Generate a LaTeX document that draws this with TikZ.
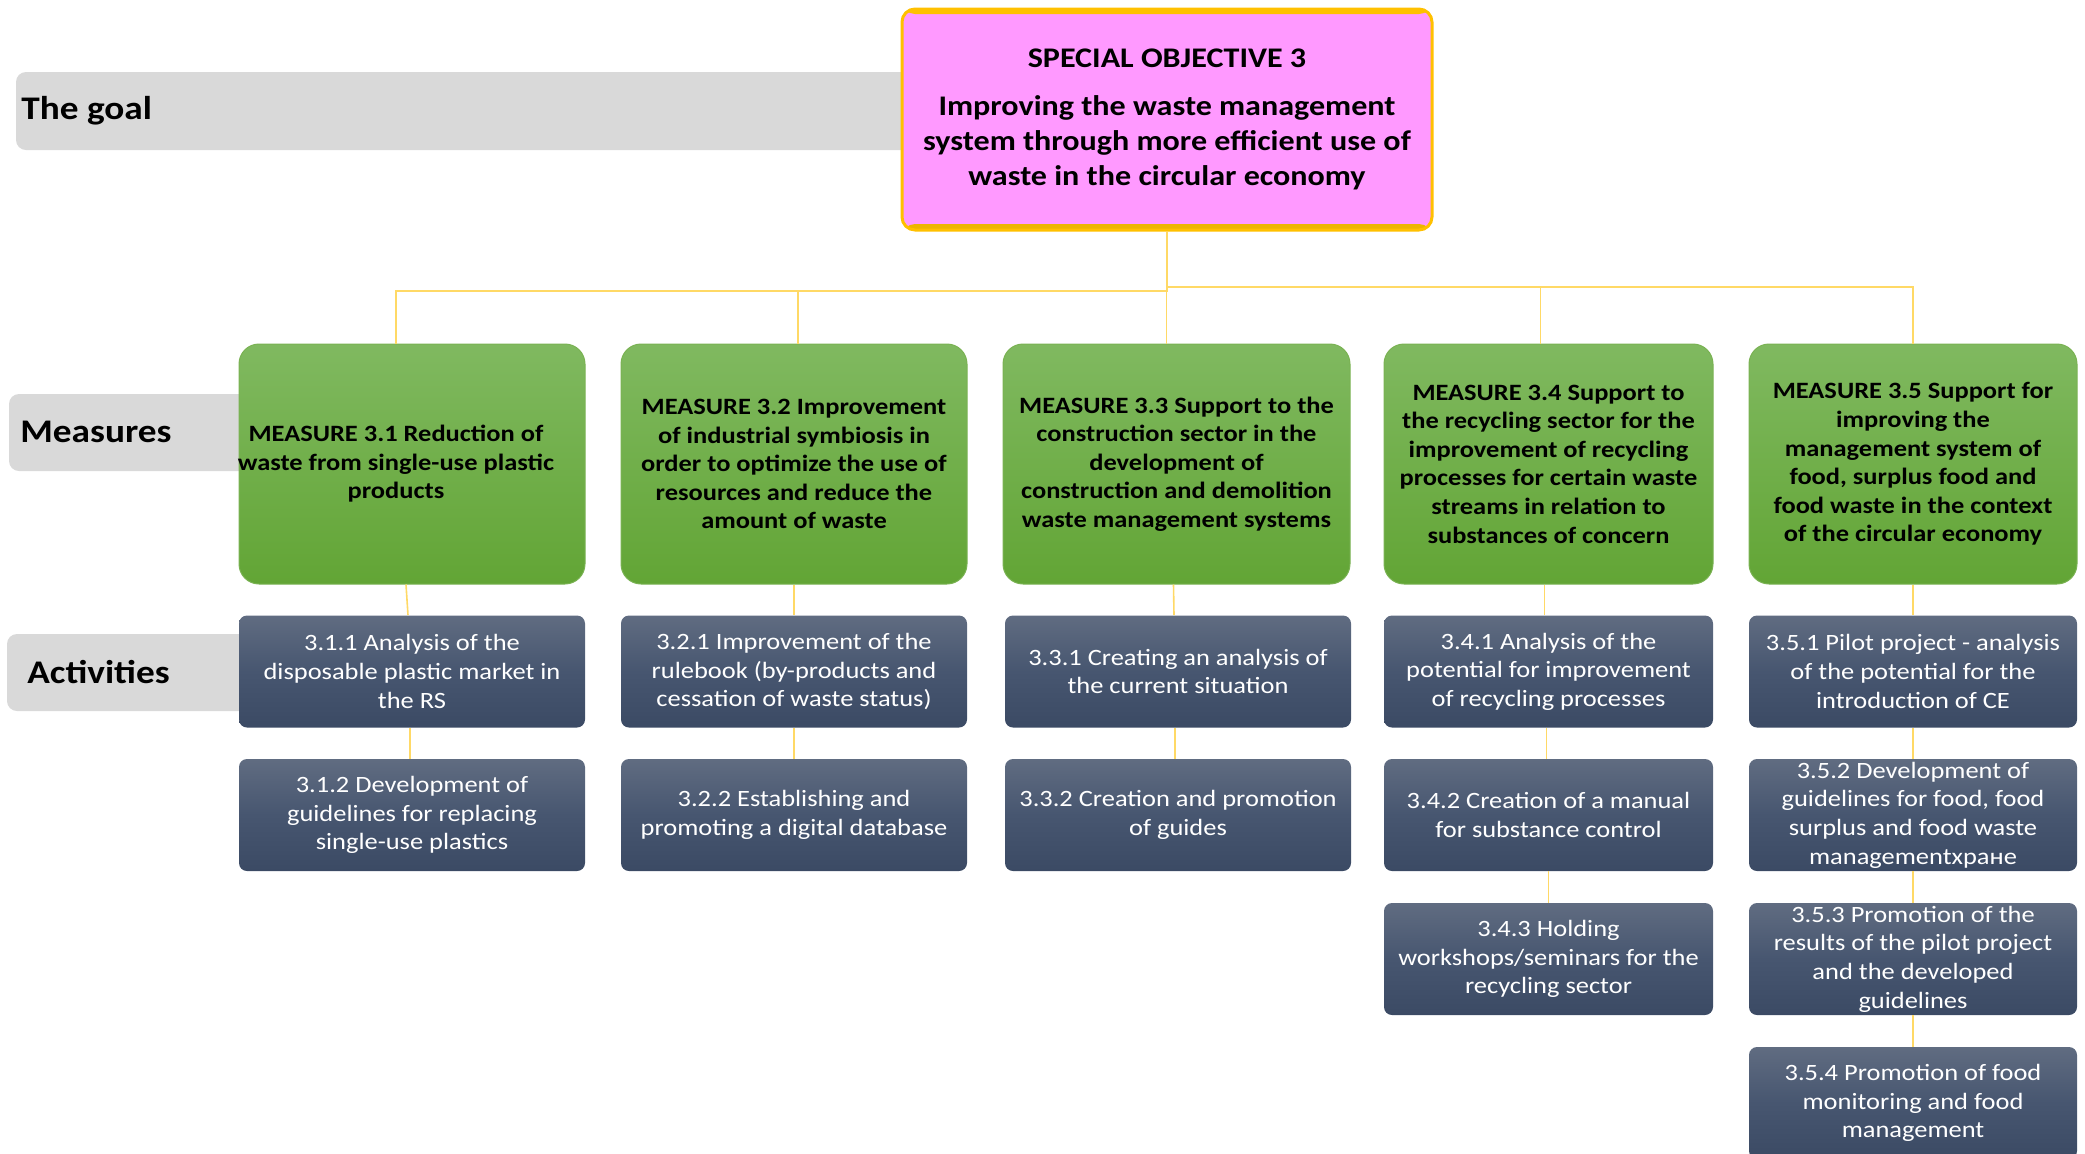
\documentclass[tikz,border=0pt]{standalone}
\usepackage{fontspec}
\setmainfont{Carlito}[FakeStretch=1.13]
\definecolor{gold}{HTML}{FFC000}
\definecolor{goldD}{HTML}{EDB500}
\definecolor{connc}{HTML}{FFD966}
\definecolor{pinkf}{HTML}{FF99FF}
\definecolor{greenT}{HTML}{80B960}
\definecolor{greenB}{HTML}{62A535}
\definecolor{slateT}{HTML}{606C81}
\definecolor{slateM}{HTML}{475670}
\definecolor{slateB}{HTML}{3B4A64}
\definecolor{bannerc}{HTML}{D9D9D9}
\begin{document}
\begin{tikzpicture}[x=0.5pt,y=-0.5pt,
 banner/.style={fill=bannerc, rounded corners=5pt, inner sep=0pt},
 bannertext/.style={font=\fontsize{16.5pt}{20pt}\selectfont\bfseries, anchor=west, inner sep=0pt},
 objbox/.style={fill=pinkf, draw=gold, line width=1.5pt, rounded corners=6.5pt,
   minimum width=265pt, minimum height=110.5pt, inner sep=0pt, align=center,
   font=\fontsize{14.2pt}{17.3pt}\selectfont\bfseries,
   path picture={
     \fill[gold] ([yshift=2pt]path picture bounding box.north west) rectangle ([yshift=-2.5pt]path picture bounding box.north east);
     \fill[goldD] ([yshift=3pt]path picture bounding box.south west) rectangle ([yshift=-2pt]path picture bounding box.south east);}},
 measure/.style={rounded corners=10pt, top color=greenT, bottom color=greenB, draw=greenB!85!white,
   line width=0.5pt, minimum height=120pt, inner sep=0pt, align=center,
   font=\fontsize{11.7pt}{14.3pt}\selectfont\bfseries},
 mtext/.style={align=center, inner sep=0pt, font=\fontsize{11.7pt}{14.3pt}\selectfont\bfseries},
 activity/.style={rounded corners=4pt, top color=slateT, bottom color=slateB, middle color=slateM,
   minimum height=56pt, inner sep=0pt, align=center, text=white,
   font=\fontsize{11.7pt}{14.3pt}\selectfont},
 conn/.style={draw=connc, line width=0.8pt}]
\useasboundingbox (0,0) rectangle (2085,1153);

% side banners
\node[banner, minimum width=467pt, minimum height=39pt] (goalbar) at (483,111) {};
\node[bannertext] (goaltxt) at (21,111) {The goal};
\node[banner, minimum width=145.5pt, minimum height=38.5pt] (measbar) at (154.5,432.5) {};
\node[bannertext] (meastxt) at (20,432) {Measures};
\node[banner, minimum width=146.5pt, minimum height=38.5pt] (actbar) at (153.5,672.5) {};
\node[bannertext] (acttxt) at (27,672) {Activities};

% objective
\node[objbox] (obj) at (1167,119.5) {SPECIAL OBJECTIVE 3\\[6.7pt]Improving the waste management\\system through more efficient use of\\waste in the circular economy};

% measures
\node[measure, minimum width=173pt, label={[mtext, xshift=-8pt]center:{MEASURE 3.1 Reduction of\\waste from single-use plastic\\products}}] (m1) at (412,464) {};
\node[measure, minimum width=173pt] (m2) at (794,464) {MEASURE 3.2 Improvement\\of industrial symbiosis in\\order to optimize the use of\\resources and reduce the\\amount of waste};
\node[measure, minimum width=173.5pt] (m3) at (1176.5,464) {MEASURE 3.3 Support to the\\construction sector in the\\development of\\construction and demolition\\waste management systems};
\node[measure, minimum width=164.5pt] (m4) at (1548.5,464) {MEASURE 3.4 Support to\\the recycling sector for the\\improvement of recycling\\processes for certain waste\\streams in relation to\\substances of concern};
\node[measure, minimum width=164pt] (m5) at (1913,464) {MEASURE 3.5 Support for\\improving the\\management system of\\food, surplus food and\\food waste in the context\\of the circular economy};

% activities
\node[activity, minimum width=173pt] (a11) at (412,671.5) {3.1.1 Analysis of the\\disposable plastic market in\\the RS};
\node[activity, minimum width=173pt] (a12) at (412,815) {3.1.2 Development of\\guidelines for replacing\\single-use plastics};
\node[activity, minimum width=173pt] (a21) at (794,671.5) {3.2.1 Improvement of the\\rulebook (by-products and\\cessation of waste status)};
\node[activity, minimum width=173pt] (a22) at (794,815) {3.2.2 Establishing and\\promoting a digital database};
\node[activity, minimum width=173pt] (a31) at (1178,671.5) {3.3.1 Creating an analysis of\\the current situation};
\node[activity, minimum width=173pt] (a32) at (1178,815) {3.3.2 Creation and promotion\\of guides};
\node[activity, minimum width=164.5pt] (a41) at (1548.5,671.5) {3.4.1 Analysis of the\\potential for improvement\\of recycling processes};
\node[activity, minimum width=164.5pt] (a42) at (1548.5,815) {3.4.2 Creation of a manual\\for substance control};
\node[activity, minimum width=164.5pt] (a43) at (1548.5,959) {3.4.3 Holding\\workshops/seminars for the\\recycling sector};
\node[activity, minimum width=164pt] (a51) at (1913,671.5) {3.5.1 Pilot project - analysis\\of the potential for the\\introduction of CE};
\node[activity, minimum width=164pt] (a52) at (1913,815) {3.5.2 Development of\\guidelines for food, food\\surplus and food waste\\managementхране};
\node[activity, minimum width=164pt] (a53) at (1913,959) {3.5.3 Promotion of the\\results of the pilot project\\and the developed\\guidelines};
\node[activity, minimum width=164pt] (a54) at (1913,1103) {3.5.4 Promotion of food\\monitoring and food\\management};

% connectors
\coordinate (busL) at (0,291);
\coordinate (busR) at (0,287);
\draw[conn] (obj.south) -- (obj.south |- busL) -| ([xshift=-8pt]m1.north);
\draw[conn] (obj.south |- busL) -| ([xshift=2pt]m2.north);
\draw[conn] (obj.south |- busL) -| ([xshift=-5pt]m3.north);
\draw[conn] (obj.south) -- (obj.south |- busR) -| ([xshift=-4pt]m4.north);
\draw[conn] (obj.south |- busR) -| (m5.north);

\draw[conn] ([xshift=-3pt]m1.south) -- ([xshift=-2pt]a11.north);
\draw[conn] ([xshift=-1pt]a11.south) -- ([xshift=-1pt]a12.north);
\draw[conn] (m2.south) -- (a21.north);
\draw[conn] (a21.south) -- (a22.north);
\draw[conn] ([xshift=-1.5pt]m3.south) -- ([xshift=-2pt]a31.north);
\draw[conn] ([xshift=-1.5pt]a31.south) -- ([xshift=-1.5pt]a32.north);
\draw[conn] ([xshift=-2pt]m4.south) -- ([xshift=-2pt]a41.north);
\draw[conn] ([xshift=-1pt]a41.south) -- ([xshift=-1pt]a42.north);
\draw[conn] (a42.south) -- (a43.north);
\draw[conn] (m5.south) -- (a51.north);
\draw[conn] (a51.south) -- (a52.north);
\draw[conn] (a52.south) -- (a53.north);
\draw[conn] (a53.south) -- (a54.north);
\end{tikzpicture}
\end{document}
